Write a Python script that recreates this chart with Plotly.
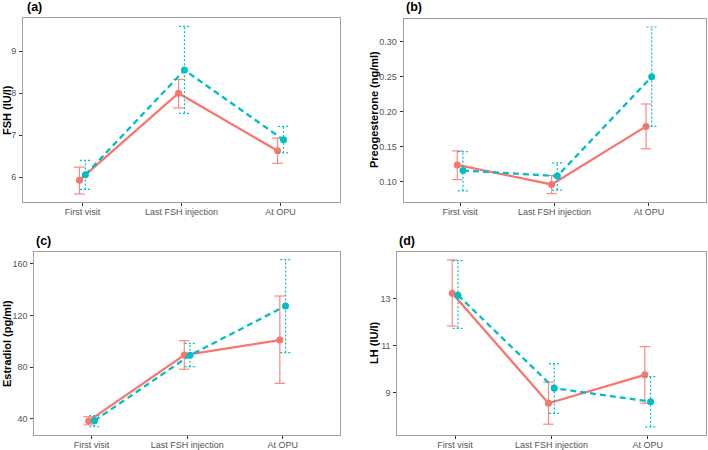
import plotly.graph_objects as go

categories = ["First visit", "Last FSH injection", "At OPU"]

# (a) FSH
fsh_red = [5.93, 8.00, 6.63]
fsh_red_lo = [5.60, 7.65, 6.33]
fsh_red_hi = [6.24, 8.33, 6.93]
fsh_cyan = [6.06, 8.55, 6.89]
fsh_cyan_lo = [5.71, 7.52, 6.58]
fsh_cyan_hi = [6.40, 9.59, 7.21]

# (b) Progesterone
prog_red = [0.124, 0.096, 0.179]
prog_red_lo = [0.103, 0.083, 0.147]
prog_red_hi = [0.144, 0.109, 0.211]
prog_cyan = [0.116, 0.108, 0.250]
prog_cyan_lo = [0.087, 0.088, 0.179]
prog_cyan_hi = [0.143, 0.127, 0.321]

# (c) Estradiol
e2_red = [38.5, 89.5, 101.1]
e2_red_lo = [35.4, 78.5, 67.6]
e2_red_hi = [41.8, 100.6, 135.2]
e2_cyan = [38.7, 89.3, 127.5]
e2_cyan_lo = [34.0, 80.5, 91.4]
e2_cyan_hi = [42.6, 98.6, 163.3]

# (d) LH
lh_red = [13.24, 8.56, 9.77]
lh_red_lo = [11.85, 7.67, 8.56]
lh_red_hi = [14.66, 9.46, 10.97]
lh_cyan = [13.16, 9.20, 8.63]
lh_cyan_lo = [11.75, 8.13, 7.56]
lh_cyan_hi = [14.63, 10.25, 9.69]

panels = [
    dict(tag="(a)", ytitle="FSH (IU/l)", ticks=[6, 7, 8, 9], ticktext=["6", "7", "8", "9"],
         yrange=[5.41, 9.79],
         red=(fsh_red, fsh_red_lo, fsh_red_hi), cyan=(fsh_cyan, fsh_cyan_lo, fsh_cyan_hi),
         xdom=[23 / 708, 340 / 708], ydom=[1 - 202 / 450, 1 - 18 / 450],
         tagpos=(25, 7), ytpos=(7, 110)),
    dict(tag="(b)", ytitle="Preogesterone (ng/ml)", ticks=[0.10, 0.15, 0.20, 0.25, 0.30],
         ticktext=["0.10", "0.15", "0.20", "0.25", "0.30"],
         yrange=[0.0714, 0.3324],
         red=(prog_red, prog_red_lo, prog_red_hi), cyan=(prog_cyan, prog_cyan_lo, prog_cyan_hi),
         xdom=[403.5 / 708, 705.5 / 708], ydom=[1 - 201.7 / 450, 1 - 19 / 450],
         tagpos=(404, 7), ytpos=(374, 110)),
    dict(tag="(c)", ytitle="Estradiol (pg/ml)", ticks=[40, 80, 120, 160],
         ticktext=["40", "80", "120", "160"],
         yrange=[27.6, 169.5],
         red=(e2_red, e2_red_lo, e2_red_hi), cyan=(e2_cyan, e2_cyan_lo, e2_cyan_hi),
         xdom=[34.3 / 708, 340 / 708], ydom=[1 - 435 / 450, 1 - 251.7 / 450],
         tagpos=(34, 240.5), ytpos=(7, 344)),
    dict(tag="(d)", ytitle="LH (IU/l)", ticks=[9, 11, 13], ticktext=["9", "11", "13"],
         yrange=[7.21, 15.01],
         red=(lh_red, lh_red_lo, lh_red_hi), cyan=(lh_cyan, lh_cyan_lo, lh_cyan_hi),
         xdom=[397.3 / 708, 705.5 / 708], ydom=[1 - 435 / 450, 1 - 251.7 / 450],
         tagpos=(397, 240.5), ytpos=(374, 343)),
]

RED = "#F8766D"
CYAN = "#00BFC4"
DODGE = 0.03
CAP = 0.055
FONT = "Liberation Sans, Arial, sans-serif"
xpos = [i + 1 for i in range(len(categories))]

fig = go.Figure()
annotations = []


def errbar_xy(xs, lo, hi, w):
    X, Y = [], []
    for x, l, h in zip(xs, lo, hi):
        X += [x, x, None, x - w, x + w, None, x - w, x + w, None]
        Y += [l, h, None, h, h, None, l, l, None]
    return X, Y


layout_axes = {}
for k, p in enumerate(panels):
    n = "" if k == 0 else str(k + 1)
    xa, ya = "x" + n, "y" + n
    for grp, col, off, dash, edash in [("red", RED, -DODGE, "solid", "solid"),
                                       ("cyan", CYAN, DODGE, "6px,4px", "2px,2px")]:
        mean, lo, hi = p[grp]
        xs = [x + off for x in xpos]
        ex, ey = errbar_xy(xs, lo, hi, CAP)
        fig.add_trace(go.Scatter(x=ex, y=ey, mode="lines", xaxis=xa, yaxis=ya,
                                 line=dict(color=col, width=1.2, dash=edash),
                                 opacity=0.85 if grp == "red" else 1.0,
                                 hoverinfo="skip", showlegend=False))
        fig.add_trace(go.Scatter(x=xs, y=mean, mode="lines+markers", xaxis=xa, yaxis=ya,
                                 line=dict(color=col, width=2.3, dash=dash),
                                 marker=dict(color=col, size=7),
                                 showlegend=False))
    common = dict(showgrid=False, zeroline=False, automargin=False,
                  showline=True, mirror=True, linecolor="#a0a0a0", linewidth=1,
                  ticks="outside", ticklen=3, tickcolor="#333333",
                  tickfont=dict(size=9, color="#555555", family=FONT))
    layout_axes["xaxis" + n] = dict(domain=p["xdom"], anchor=ya, range=[0.4, 3.6],
                                    tickvals=xpos, ticktext=categories,
                                    ticklabelstandoff=-2, **common)
    layout_axes["yaxis" + n] = dict(domain=p["ydom"], anchor=xa, range=p["yrange"],
                                    tickvals=p["ticks"], ticktext=p["ticktext"],
                                    ticklabelstandoff=1, **common)
    tx, ty = p["tagpos"]
    annotations.append(dict(text="<b>" + p["tag"] + "</b>", x=tx / 708, y=1 - ty / 450,
                            xref="paper", yref="paper", xanchor="left", yanchor="middle",
                            showarrow=False, font=dict(size=12.5, color="black", family=FONT)))
    yx, yy = p["ytpos"]
    annotations.append(dict(text="<b>" + p["ytitle"] + "</b>", x=yx / 708, y=1 - yy / 450,
                            xref="paper", yref="paper", xanchor="center", yanchor="middle",
                            textangle=-90, showarrow=False,
                            font=dict(size=11, color="black", family=FONT)))

fig.update_layout(template="none", width=708, height=450, margin=dict(l=0, r=0, t=0, b=0),
                  paper_bgcolor="white", plot_bgcolor="white",
                  annotations=annotations, showlegend=False, **layout_axes)

fig.write_html("out.html", config={"displayModeBar": False},
               post_script="document.body.style.margin='0';")
